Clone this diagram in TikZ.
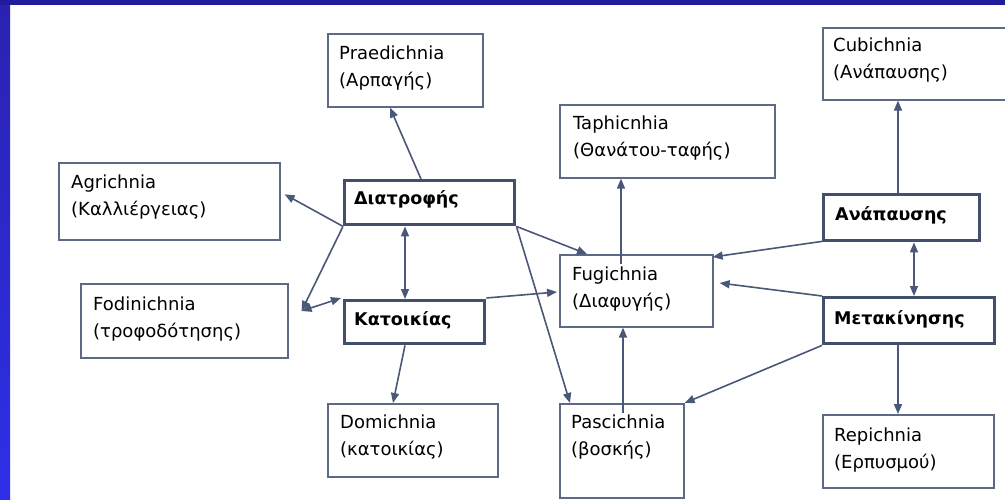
\documentclass[tikz,border=0pt]{standalone}
\usepackage{fontspec}
\setmainfont{DejaVu Sans}
\usetikzlibrary{arrows.meta}
\definecolor{barnavy}{RGB}{34,28,156}
\definecolor{bandtop}{RGB}{42,34,176}
\definecolor{bandbot}{RGB}{46,48,232}
\definecolor{linec}{RGB}{74,88,120}
\definecolor{boxc}{RGB}{92,106,134}
\definecolor{thickc}{RGB}{66,80,108}
\tikzset{
  thinbox/.style={draw=boxc, line width=1.6pt, fill=white, inner sep=0pt, anchor=north west},
  thickbox/.style={draw=thickc, line width=3.4pt, fill=white, inner sep=0pt, anchor=north west},
  % two-line labels: the base anchor sits on the last line
  boxtext/.style={anchor=base west, inner sep=0pt, align=left,
    font=\fontsize{18}{27}\selectfont, text=black},
  headtext/.style={anchor=base west, inner sep=0pt,
    font=\fontsize{17.5}{20}\selectfont\bfseries, text=black},
  arr/.style={draw=linec, line width=1.6pt, -{Triangle[length=10pt,width=8pt]}},
  dblarr/.style={draw=linec, line width=1.6pt, {Triangle[length=10pt,width=8pt]}-{Triangle[length=10pt,width=8pt]}}
}
\begin{document}
\begin{tikzpicture}[x=1pt,y=-1pt]
\useasboundingbox (0,0) rectangle (1005,500);
% slide background
\fill[white] (0,0) rectangle (1005,500);
\shade[top color=bandtop, bottom color=bandbot] (0,0) rectangle (10,500);
\fill[barnavy] (0,0) rectangle (1005,5);

% outer boxes (trace types)
\node[thinbox, minimum width=155, minimum height=73] (prae) at (327,33) {};
\node[thinbox, minimum width=221, minimum height=77] (agri) at (58,162) {};
\node[thinbox, minimum width=215, minimum height=73] (taph) at (559,104) {};
\node[thinbox, minimum width=184, minimum height=72] (cubi) at (822,27) {};
\node[thinbox, minimum width=153, minimum height=72] (fug) at (559,254) {};
\node[thinbox, minimum width=207, minimum height=74] (fod) at (80,283) {};
\node[thinbox, minimum width=170, minimum height=73] (dom) at (327,403) {};
\node[thinbox, minimum width=124, minimum height=94] (pasc) at (559,403) {};
\node[thinbox, minimum width=171, minimum height=73] (rep) at (822,414) {};

% behaviour boxes
\node[thickbox, minimum width=170, minimum height=44] (diat) at (343,179) {};
\node[thickbox, minimum width=140, minimum height=43] (kat) at (343,299) {};
\node[thickbox, minimum width=156, minimum height=46] (anap) at (822,193) {};
\node[thickbox, minimum width=171, minimum height=46] (meta) at (822,296) {};

% texts
\node[boxtext] (praeT) at ([shift={(12,54)}]prae.north west) {Praedichnia\\(Αρπαγής)};
\node[boxtext] (agriT) at ([shift={(13,53)}]agri.north west) {Agrichnia\\(Καλλιέργειας)};
\node[boxtext] (taphT) at ([shift={(14,53)}]taph.north west) {Taphicnhia\\(Θανάτου-ταφής)};
\node[boxtext] (cubiT) at ([shift={(11,52)}]cubi.north west) {Cubichnia\\(Ανάπαυσης)};
\node[boxtext] (fugT) at ([shift={(13,53)}]fug.north west) {Fugichnia\\(Διαφυγής)};
\node[boxtext] (fodT) at ([shift={(13,54)}]fod.north west) {Fodinichnia\\(τροφοδότησης)};
\node[boxtext] (domT) at ([shift={(13,52)}]dom.north west) {Domichnia\\(κατοικίας)};
\node[boxtext] (pascT) at ([shift={(12,52)}]pasc.north west) {Pascichnia\\(βοσκής)};
\node[boxtext] (repT) at ([shift={(12,54)}]rep.north west) {Repichnia\\(Ερπυσμού)};

\node[headtext] (diatT) at ([shift={(11,26)}]diat.north west) {Διατροφής};
\node[headtext] (katT) at ([shift={(11,26)}]kat.north west) {Κατοικίας};
\node[headtext] (anapT) at ([shift={(13,28)}]anap.north west) {Ανάπαυσης};
\node[headtext] (metaT) at ([shift={(12,28)}]meta.north west) {Μετακίνησης};

% meeting point of the two arrows beside Fodinichnia
\coordinate (fodpt) at ([shift={(13,28)}]fod.north east);

% connectors
\draw[arr] ([xshift=78]diat.north west) -- ([xshift=63]prae.south west);
\draw[arr] (diat.south west) -- ([shift={(4,-7)}]agri.east);
\draw[arr] (diat.south west) -- (fodpt);
\draw[dblarr] (fodpt) -- ([shift={(-2,-1)}]kat.north west);
\draw[dblarr] ([xshift=62]diat.south west) -- ([xshift=62]kat.north west);
\draw[arr] (diat.south east) -- ([xshift=28]fug.north west);
\draw[arr] (diat.south east) -- ([xshift=11]pasc.north west);
\draw[arr] ([yshift=1]kat.north east) -- ([shift={(-2,38)}]fug.north west);
\draw[arr] ([xshift=62]kat.south west) -- ([xshift=66]dom.north west);
\draw[arr] ([shift={(62,10)}]fug.north west) -- ([xshift=62]taph.south west);
\draw[arr] ([shift={(64,10)}]pasc.north west) -- ([xshift=64]fug.south west);
\draw[arr] ([xshift=76]anap.north west) -- ([xshift=76]cubi.south west);
\draw[dblarr] ([xshift=92]anap.south west) -- ([xshift=92]meta.north west);
\draw[arr] ([yshift=1]anap.south west) -- ([shift={(-1,3)}]fug.north east);
\draw[arr] (meta.north west) -- ([shift={(6,29)}]fug.north east);
\draw[arr] (meta.south west) -- (pasc.north east);
\draw[arr] ([xshift=76]meta.south west) -- ([xshift=76]rep.north west);
\end{tikzpicture}
\end{document}
